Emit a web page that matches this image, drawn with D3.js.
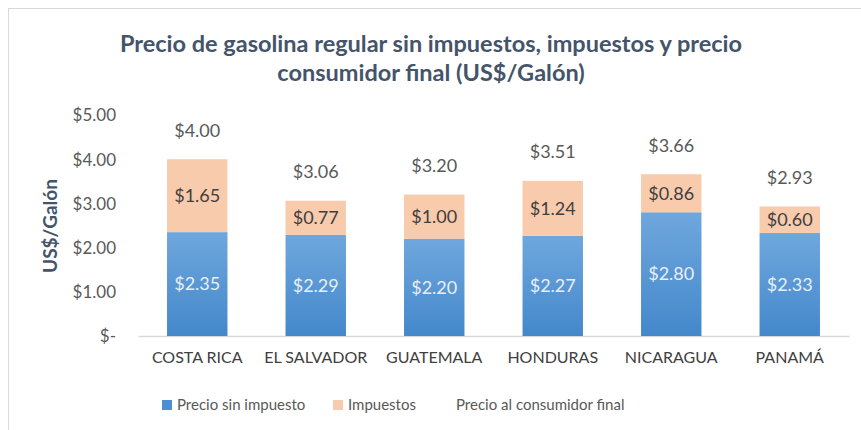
<!DOCTYPE html>
<html>
<head>
<meta charset="utf-8">
<script src="https://cdn.jsdelivr.net/npm/d3@7"></script>
<style>
  body { margin: 0; background: #fff; }
  text { font-family: Lato, "Open Sans", sans-serif; }
</style>
</head>
<body>
<div id="chart-area"></div>
<script>
// chart values
var paises = ["COSTA RICA", "EL SALVADOR", "GUATEMALA", "HONDURAS", "NICARAGUA", "PANAMÁ"];
var sinImpuesto = [2.35, 2.29, 2.20, 2.27, 2.80, 2.33];
var impuestos = [1.65, 0.77, 1.00, 1.24, 0.86, 0.60];
var precioFinal = [4.00, 3.06, 3.20, 3.51, 3.66, 2.93];
var yTicks = [0, 1, 2, 3, 4, 5];
var seriesNames = ["Precio sin impuesto", "Impuestos", "Precio al consumidor final"];

var width = 861, height = 430;
var margin = { top: 115, bottom: 94, left: 138, right: 12 };

var svg = d3.select("#chart-area")
    .append("svg")
        .attr("width", width)
        .attr("height", height);

// light frame around the chart
svg.append("rect")
    .attr("x", 8.5).attr("y", 8.5)
    .attr("width", width + 20).attr("height", height + 20)
    .attr("fill", "none")
    .attr("stroke", "#d9d9d9");

// gradient for the blue bars
var grad = svg.append("defs").append("linearGradient")
    .attr("id", "blueGrad")
    .attr("x1", 0).attr("y1", 0).attr("x2", 0).attr("y2", 1);
grad.append("stop").attr("offset", "0%").attr("stop-color", "#6fa7dd");
grad.append("stop").attr("offset", "100%").attr("stop-color", "#4488cb");

// title
var title = svg.append("text")
    .attr("text-anchor", "middle")
    .attr("fill", "#44546a")
    .attr("font-weight", "bold")
    .attr("font-size", 23.5);
title.append("tspan").attr("x", 431).attr("y", 52)
    .text("Precio de gasolina regular sin impuestos, impuestos y precio");
title.append("tspan").attr("x", 431).attr("y", 81)
    .text("consumidor final (US$/Galón)");

var data = paises.map(function(p, i) {
    return { name: p, base: sinImpuesto[i], tax: impuestos[i], total: precioFinal[i] };
});

var x = d3.scaleBand()
    .domain(paises)
    .range([margin.left, width - margin.right])
    .paddingInner(0.49)
    .paddingOuter(0.245);

var y = d3.scaleLinear()
    .domain([0, 5])
    .range([height - margin.bottom, margin.top]);

// y axis (no line, no ticks)
var yAxisCall = d3.axisLeft(y)
    .tickValues(yTicks)
    .tickSize(0)
    .tickPadding(0)
    .tickFormat(function(d) {
        return d === 0 ? "$-" : "$" + d3.format(".2f")(d);
    });
var yAxis = svg.append("g")
    .attr("class", "y-axis")
    .attr("transform", "translate(116,0)")
    .call(yAxisCall);
yAxis.select(".domain").remove();
yAxis.selectAll("text")
    .attr("fill", "#595959")
    .attr("font-size", 17)
    .attr("dy", "0.35em");

svg.append("text")
    .attr("transform", "translate(57,226) rotate(-90)")
    .attr("text-anchor", "middle")
    .attr("fill", "#44546a")
    .attr("font-weight", "bold")
    .attr("font-size", 19)
    .text("US$/Galón");

// x axis
var xAxisCall = d3.axisBottom(x).tickSize(0).tickPadding(16);
var xAxis = svg.append("g")
    .attr("class", "x axis")
    .attr("transform", "translate(0," + (height - margin.bottom) + ")")
    .call(xAxisCall);
xAxis.select(".domain")
    .attr("stroke", "#d9d9d9")
    .attr("stroke-width", 1.5);
xAxis.selectAll("text")
    .attr("fill", "#404040")
    .attr("font-size", 16);

// bars
var bars = svg.append("g").selectAll("g")
    .data(data)
    .enter().append("g");

bars.append("rect")
    .attr("x", function(d) { return x(d.name); })
    .attr("y", function(d) { return y(d.base); })
    .attr("width", x.bandwidth())
    .attr("height", function(d) { return y(0) - y(d.base); })
    .attr("fill", "url(#blueGrad)");

bars.append("rect")
    .attr("x", function(d) { return x(d.name); })
    .attr("y", function(d) { return y(d.base + d.tax); })
    .attr("width", x.bandwidth())
    .attr("height", function(d) { return y(d.base) - y(d.base + d.tax); })
    .attr("fill", "#f8cbad");

// labels
var fmt = function(v) { return "$" + d3.format(".2f")(v); };

bars.append("text")
    .attr("x", function(d) { return x(d.name) + x.bandwidth() / 2; })
    .attr("y", function(d) { return y(d.base / 2); })
    .attr("dy", "0.35em")
    .attr("text-anchor", "middle")
    .attr("fill", "#e9eef6")
    .attr("font-size", 18)
    .text(function(d) { return fmt(d.base); });

bars.append("text")
    .attr("x", function(d) { return x(d.name) + x.bandwidth() / 2; })
    .attr("y", function(d) { return y(d.base + d.tax / 2); })
    .attr("dy", "0.35em")
    .attr("text-anchor", "middle")
    .attr("fill", "#404040")
    .attr("font-size", 18)
    .text(function(d) { return fmt(d.tax); });

bars.append("text")
    .attr("x", function(d) { return x(d.name) + x.bandwidth() / 2; })
    .attr("y", function(d) { return y(d.total) - 29; })
    .attr("dy", "0.35em")
    .attr("text-anchor", "middle")
    .attr("fill", "#595959")
    .attr("font-size", 18)
    .text(function(d) { return fmt(d.total); });

// legend
var legendX = [162, 333, 456];
var legendColors = ["#4d8fd0", "#f8cbad", null];
var legend = svg.append("g").selectAll("g")
    .data(seriesNames)
    .enter().append("g")
        .attr("transform", function(d, i) { return "translate(" + legendX[i] + ",405)"; });

legend.filter(function(d, i) { return legendColors[i]; })
    .append("rect")
    .attr("x", 0).attr("y", -5)
    .attr("width", 10).attr("height", 10)
    .attr("fill", function(d, i) { return legendColors[seriesNames.indexOf(d)]; });

legend.append("text")
    .attr("x", function(d, i) { return legendColors[i] ? 15 : 0; })
    .attr("dy", "0.35em")
    .attr("fill", "#595959")
    .attr("font-size", 15)
    .text(function(d) { return d; });
</script>
</body>
</html>
